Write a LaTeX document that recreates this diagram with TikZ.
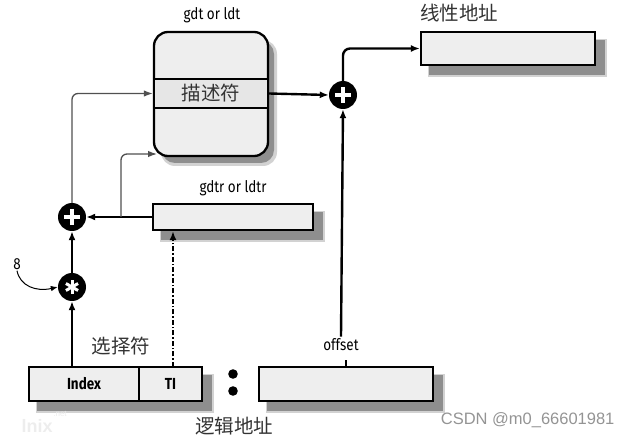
\documentclass[tikz,border=0pt]{standalone}
\usepackage{fontspec}
\setmainfont{Fira Sans}
\newfontfamily\lab[FakeStretch=0.84]{Fira Sans}
\newfontfamily\cjk{Noto Sans CJK SC}
\newfontfamily\wm{Liberation Sans}
\usetikzlibrary{arrows.meta,calc}
\definecolor{boxfill}{HTML}{EEEEEE}
\definecolor{bandfill}{HTML}{E6E6E6}
\definecolor{shadowc}{HTML}{8E8E8E}
\definecolor{thinline}{HTML}{505050}
\tikzset{
  x=1pt, y=-1pt,
  frame/.style={draw=black, line width=2.3pt, fill=boxfill, inner sep=0pt},
  conn/.style={line width=2.4pt, -{Latex[length=9pt,width=7pt]}},
  thinconn/.style={draw=thinline, line width=1.3pt, -{Latex[length=9pt,width=6.5pt]}, rounded corners=6pt},
  opcircle/.style={circle, fill=black, minimum size=28pt, inner sep=0pt},
  toplabel/.style={font=\lab\fontsize{16}{16}\selectfont, inner sep=1pt},
  cjklabel/.style={font=\cjk\fontsize{19.5}{19.5}\selectfont, text=black!80, inner sep=1pt},
}
% soft drop shadow behind a box
\newcommand{\softshadow}[1]{%
  \fill[shadowc!40] ($(#1.north west)+(7,7)$) rectangle ($(#1.south east)+(11.5,11.5)$);
  \fill[shadowc] ($(#1.north west)+(8.5,8.5)$) rectangle ($(#1.south east)+(9.5,9.5)$);
}
\begin{document}
\begin{tikzpicture}
\useasboundingbox (0,0) rectangle (633,441);

% descriptor table
\fill[shadowc!40, rounded corners=14pt] (161,40) rectangle (277,166);
\fill[shadowc, rounded corners=13pt] (162,41) rectangle (274,163);
\node[frame, rounded corners=14pt, minimum width=114pt, minimum height=124pt] (gdt) at (211,94) {};
\node[draw=black, line width=2.3pt, fill=bandfill, minimum width=114pt, minimum height=29pt, inner sep=0pt,
      font=\cjk\fontsize{19.5}{19.5}\selectfont, text=black!80] (desc) at (211,93.5) {描述符};
\node[toplabel] (gdtlab) at (212,15) {gdt or ldt};

% linear address register
\node[minimum width=174pt, minimum height=33pt, inner sep=0pt] (linpos) at (508,48.5) {};
\softshadow{linpos}
\node[frame, minimum width=174pt, minimum height=33pt] (lin) at (508,48.5) {};
\node[cjklabel] (linlab) at (459,13) {线性地址};

% table register
\node[minimum width=160pt, minimum height=26pt, inner sep=0pt] (gdtrpos) at (233,217) {};
\softshadow{gdtrpos}
\node[frame, minimum width=160pt, minimum height=26pt] (gdtr) at (233,217) {};
\node[toplabel] (gdtrlab) at (233,188) {gdtr or ldtr};

% selector and offset
\node[minimum width=173pt, minimum height=34pt, inner sep=0pt] (selpos) at (115.5,384) {};
\softshadow{selpos}
\node[frame, minimum width=110pt, minimum height=34pt, font=\lab\bfseries\fontsize{16}{16}\selectfont] (index) at (84,384) {Index};
\node[frame, minimum width=63pt, minimum height=34pt, font=\lab\bfseries\fontsize{16}{16}\selectfont] (ti) at (170.5,384) {TI};
\node[cjklabel] (sellab) at (121,346) {选择符};

\node[minimum width=174pt, minimum height=34pt, inner sep=0pt] (offpos) at (346,384) {};
\softshadow{offpos}
\node[frame, minimum width=174pt, minimum height=34pt] (off) at (346,384) {};

\fill (233,374) circle (4.8pt) (233,391) circle (4.8pt);
\node[cjklabel] (logic) at (234,426) {逻辑地址};

% operators
\node[opcircle] (plusB) at (343,95) {};
\node[opcircle] (plusA) at (72,217) {};
\node[opcircle] (star) at (72,287) {};
\foreach \c in {plusB, plusA}{
  \draw[white, line width=4.5pt] ($(\c)+(-8,0)$) -- ($(\c)+(8,0)$);
  \draw[white, line width=4.5pt] ($(\c)+(0,-8)$) -- ($(\c)+(0,8)$);
}
\foreach \a in {90,30,-30}{
  \draw[white, line width=3pt] ($(star)+(\a:7)$) -- ($(star)+(\a+180:7)$);
}

% connectors
\draw[conn] (desc.east) -- (plusB.west);
\draw[conn, rounded corners=7pt] (plusB.north) -- (plusB.north |- lin.west) -- (lin.west);
\draw[line width=2.4pt] (off.north) -- ++(0,-6);
\node[toplabel, fill=white, inner sep=2pt] (offlab) at (341,345) {offset};
\draw[conn] (offlab.north) -- (plusB.south);

\coordinate (branch) at (121,217);
\draw[conn] (gdtr.west) -- (plusA.east);
\coordinate (gdtfoot) at (157,154);
\draw[thinconn] (branch) -- (branch |- gdtfoot) -- (gdtfoot);
\draw[thinconn] (plusA.north) -- (plusA.north |- desc.west) -- (desc.west);
\draw[conn] (star.north) -- (plusA.south);

\coordinate (idxtop) at (index.north -| star);
\draw[conn] (idxtop) -- (star.south);
\coordinate (titop) at (173,367);
\draw[conn, dash pattern=on 5pt off 2pt on 1.5pt off 2pt] (titop) -- (titop |- gdtr.south);

\node[font=\lab\fontsize{16}{16}\selectfont, inner sep=1pt] (eight) at (17,264) {8};
\draw[line width=1pt, -{Latex[length=7pt,width=5.5pt]}] (eight.south) .. controls (20,286) and (36,292) .. (star.west);

% watermarks
\node[font=\wm\fontsize{16.5}{16.5}\selectfont, text=black!42, anchor=east] (csdn) at (618,420) {CSDN @m0\_66601981};
\node[font=\wm\bfseries\fontsize{18}{18}\selectfont, text=black!7, anchor=west] (lnix) at (18,426) {lnix};
\node[font=\wm\fontsize{8}{8}\selectfont, text=black!8] (lnixnet) at (60,414) {.net};
\end{tikzpicture}
\end{document}
